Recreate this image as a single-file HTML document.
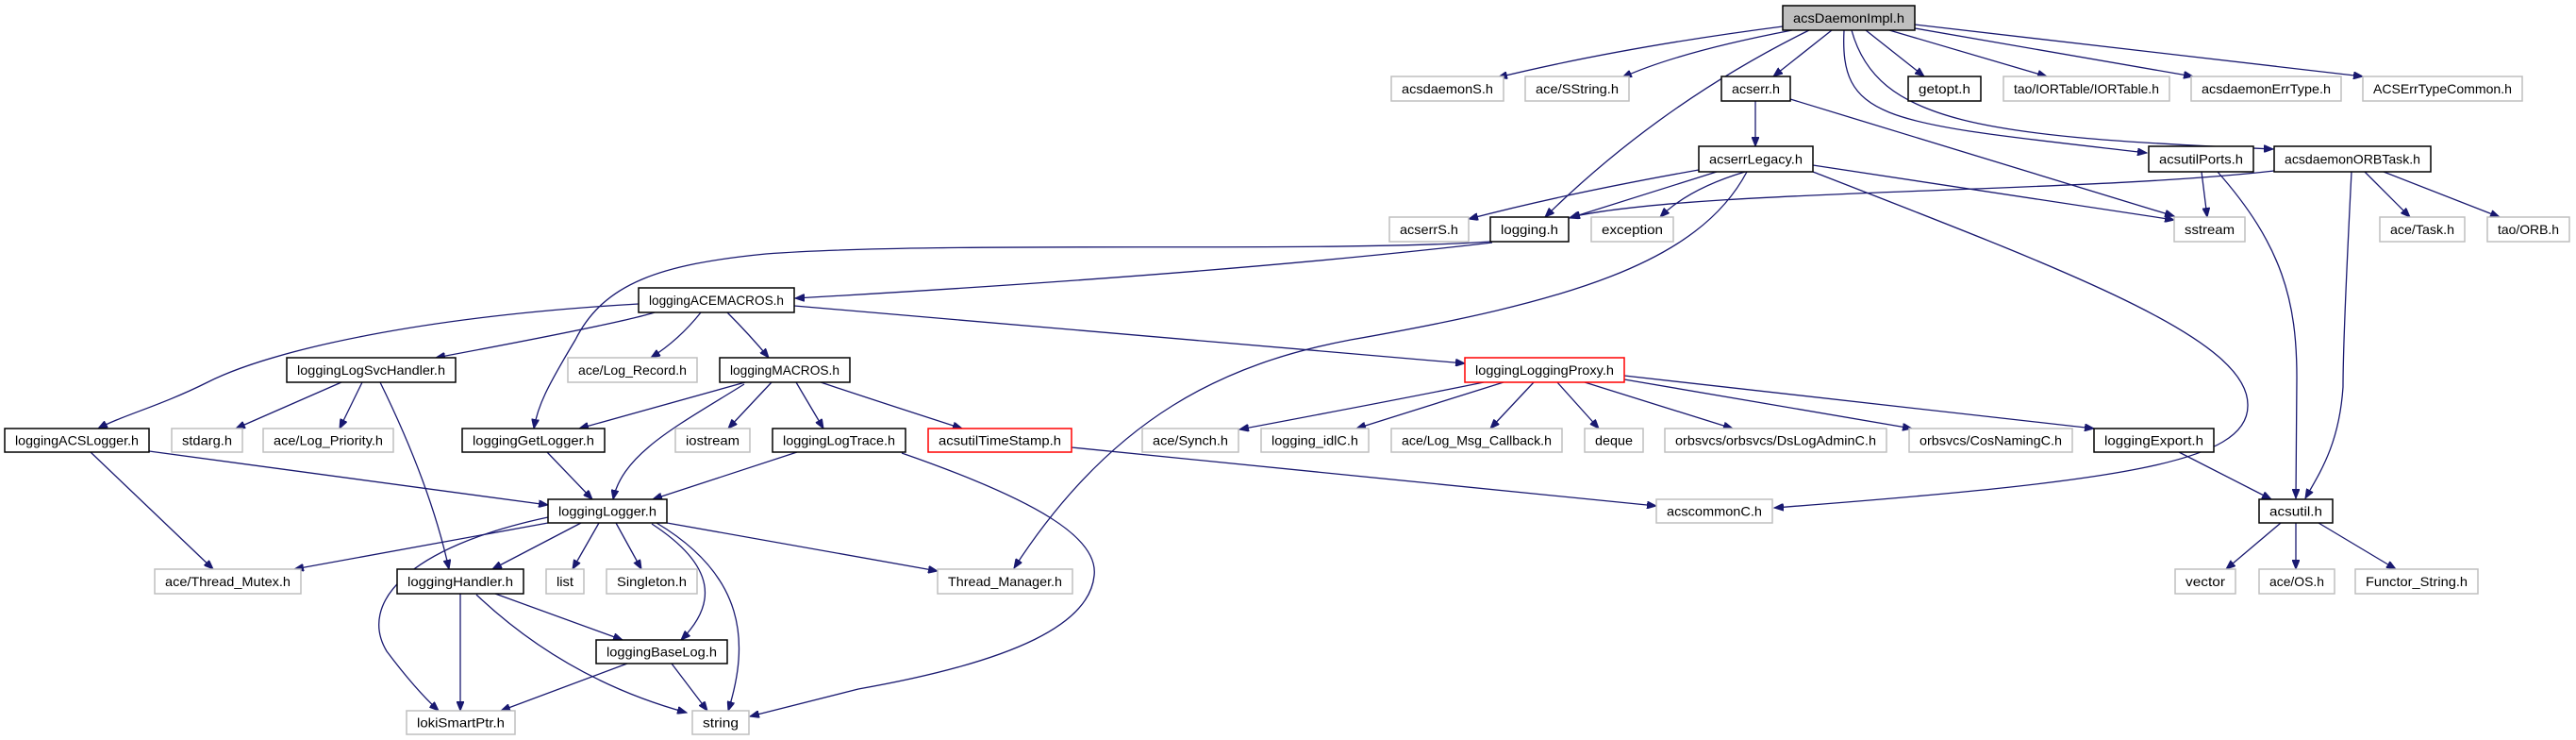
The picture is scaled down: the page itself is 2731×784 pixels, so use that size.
<!DOCTYPE html>
<html><head><meta charset="utf-8"><style>
html,body{margin:0;padding:0;background:#fff;}
svg{display:block;}
text{font-family:"Liberation Sans","DejaVu Sans",sans-serif;font-size:14px;fill:#000;}
</style></head><body>
<svg id="g" xmlns="http://www.w3.org/2000/svg" width="2731" height="784" viewBox="0 0 2731 784">
<defs><marker id="a" markerUnits="userSpaceOnUse" markerWidth="11" markerHeight="8" refX="10" refY="4" orient="auto"><path d="M0,0 L10,4 L0,8 z" fill="#191970" stroke="#191970"/></marker></defs>
<g id="edges" fill="none" stroke="#191970" stroke-width="1.3" marker-end="url(#a)"></g>
<g id="nodes"></g>
</svg>
<script>
var R=[[6,32],[81,107],[155,182],[230,256],[305,331],[379,405],[454,479],[529,554],[603,629],[678,703],[753,778]];
var N=[
["acsDaemonImpl.h",1890,2030,0,"d"],
["acsdaemonS.h",1475,1594,1,"g"],["ace/SString.h",1617,1727,1,"g"],["acserr.h",1825,1898,1,"b"],["getopt.h",2023,2100,1,"b"],["tao/IORTable/IORTable.h",2124,2300,1,"g"],["acsdaemonErrType.h",2323,2482,1,"g"],["ACSErrTypeCommon.h",2505,2674,1,"g"],
["acserrLegacy.h",1801,1922,2,"b"],["acsutilPorts.h",2278,2389,2,"b"],["acsdaemonORBTask.h",2411,2577,2,"b"],
["acserrS.h",1473,1557,3,"g"],["logging.h",1580,1663,3,"b"],["exception",1687,1774,3,"g"],["sstream",2305,2380,3,"g"],["ace/Task.h",2523,2613,3,"g"],["tao/ORB.h",2637,2724,3,"g"],
["loggingACEMACROS.h",677,842,4,"b"],
["loggingLogSvcHandler.h",304,483,5,"b"],["ace/Log_Record.h",602,739,5,"g"],["loggingMACROS.h",763,901,5,"b"],["loggingLoggingProxy.h",1553,1722,5,"r"],
["loggingACSLogger.h",5,158,6,"b"],["stdarg.h",182,257,6,"g"],["ace/Log_Priority.h",279,417,6,"g"],["loggingGetLogger.h",490,641,6,"b"],["iostream",716,795,6,"g"],["loggingLogTrace.h",819,960,6,"b"],["acsutilTimeStamp.h",984,1136,6,"r"],["ace/Synch.h",1211,1313,6,"g"],["logging_idlC.h",1337,1451,6,"g"],["ace/Log_Msg_Callback.h",1475,1656,6,"g"],["deque",1680,1742,6,"g"],["orbsvcs/orbsvcs/DsLogAdminC.h",1765,2000,6,"g"],["orbsvcs/CosNamingC.h",2024,2197,6,"g"],["loggingExport.h",2220,2347,6,"b"],
["loggingLogger.h",581,707,7,"b"],["acscommonC.h",1756,1879,7,"g"],["acsutil.h",2395,2473,7,"b"],
["ace/Thread_Mutex.h",164,319,8,"g"],["loggingHandler.h",421,555,8,"b"],["list",579,619,8,"g"],["Singleton.h",643,739,8,"g"],["Thread_Manager.h",994,1137,8,"g"],["vector",2306,2370,8,"g"],["ace/OS.h",2395,2475,8,"g"],["Functor_String.h",2497,2627,8,"g"],
["loggingBaseLog.h",632,771,9,"b"],
["lokiSmartPtr.h",431,546,10,"g"],["string",734,794,10,"g"]
];
var E=[
"M1890,28 Q1720,50 1588,82","M1900,32 Q1780,55 1720,82","M1918,32 Q1760,110 1638,230","M1942,32 L1880,81","M1978,32 L2040,81","M2003,32 L2170,81","M2030,30 L2325,81","M2030,26 L2505,81",
"M1955,32 C1950,130 2000,130 2276,162","M1963,32 C1990,130 2100,145 2410,158",
"M1861,107 L1861,155","M1898,105 L2305,229",
"M1801,180 Q1660,205 1557,232","M1820,182 L1664,231","M1850,182 Q1790,200 1760,230","M1922,175 L2305,233",
"M1852,182 C1800,280 1660,320 1432,360 C1300,385 1180,440 1075,602",
"M1922,182 C2200,290 2385,360 2383,430 C2383,490 2250,510 1881,538",
"M2334,182 L2340,230","M2351,182 C2420,260 2435,320 2435,400 L2434,528",
"M2411,181 C2200,205 1800,200 1665,230","M2493,182 C2487,300 2484,380 2484,410 C2480,470 2460,500 2444,528","M2507,182 L2555,230","M2527,182 L2650,230",
"M1580,256 C1400,268 1000,255 812,269 C700,280 640,300 610,360 C580,410 570,430 566,454",
"M1582,257 Q1300,290 843,316",
"M842,324 L1553,385","M677,322 C450,335 290,370 220,405 C170,430 130,440 104,454","M694,331 Q660,342 462,379","M743,331 Q720,360 690,379","M771,331 Q795,355 815,379",
"M362,405 L250,454","M384,405 L360,454","M403,405 C430,460 460,530 476,603",
"M790,405 L614,454","M789,407 C720,450 660,480 650,529","M818,405 L772,454","M844,405 L873,454","M870,405 Q930,425 1020,454",
"M1573,405 Q1500,420 1314,455","M1594,405 L1438,454","M1626,405 L1580,454","M1651,405 L1695,454","M1680,405 L1837,454","M1722,402 L2027,454","M1722,398 L2220,454",
"M158,478 L581,535","M96,479 L226,603","M580,479 L628,529","M845,479 L692,529",
"M956,480 C1100,530 1165,570 1160,610 C1155,660 1080,700 910,730 L795,759",
"M1136,474 L1756,536","M2310,479 L2408,529",
"M2418,554 L2360,603","M2434,554 L2434,603","M2458,554 L2540,603",
"M581,554 L312,603","M616,554 L522,603","M635,554 L607,603","M653,554 L680,603","M707,554 L994,605",
"M691,555 C760,600 760,640 722,678","M696,554 C790,610 795,680 772,753","M581,548 C430,580 380,640 410,690 Q440,730 465,753",
"M525,629 L660,678","M488,629 L488,753","M505,630 Q600,720 728,755",
"M665,703 L531,753","M712,703 L750,753"
];
var ns="http://www.w3.org/2000/svg",eg=document.getElementById("edges"),ng=document.getElementById("nodes");
E.forEach(function(d){var p=document.createElementNS(ns,"path");p.setAttribute("d",d);eg.appendChild(p);});
N.forEach(function(n){var y=R[n[3]],r=document.createElementNS(ns,"rect");
r.setAttribute("x",n[1]);r.setAttribute("y",y[0]);r.setAttribute("width",n[2]-n[1]);r.setAttribute("height",y[1]-y[0]);
var c={d:"#000",g:"#bfbfbf",b:"#000",r:"#ff0000"}[n[4]];
r.setAttribute("fill",n[4]=="d"?"#bfbfbf":"#fff");r.setAttribute("stroke",c);r.setAttribute("stroke-width","1.5");ng.appendChild(r);
var t=document.createElementNS(ns,"text");t.setAttribute("x",(n[1]+n[2])/2);t.setAttribute("y",(y[0]+y[1])/2+5);
t.setAttribute("text-anchor","middle");var w=n[2]-n[1]-22;t.setAttribute("textLength",w);t.setAttribute("lengthAdjust","spacingAndGlyphs");
t.textContent=n[0];ng.appendChild(t);});
</script>
</body></html>
